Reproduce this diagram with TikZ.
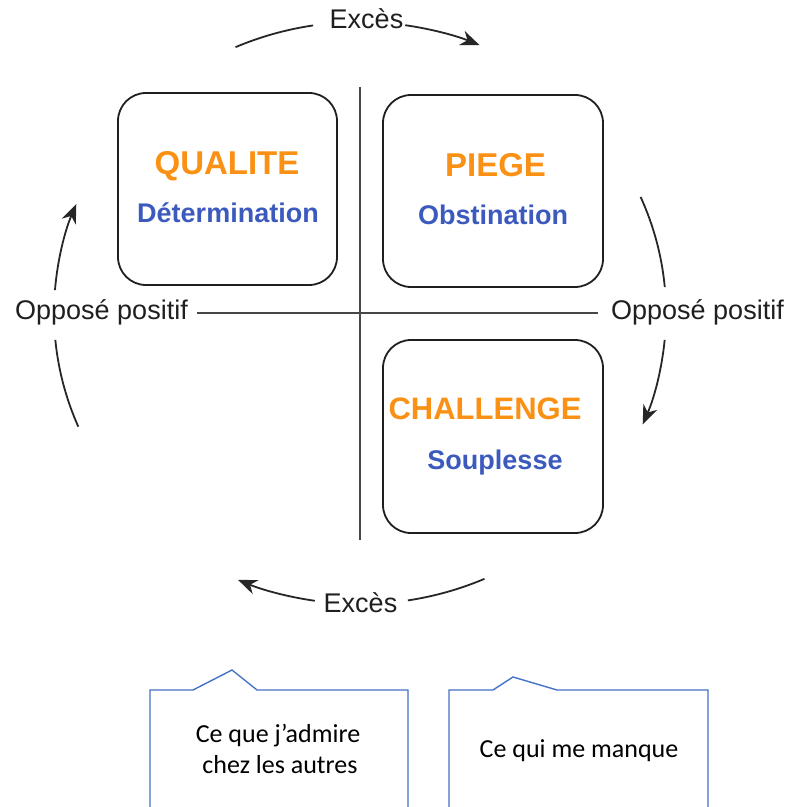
\documentclass[tikz,border=0pt]{standalone}
\usepackage{fontspec}
\setmainfont{Liberation Sans}
\newfontfamily\calloutfont{Carlito}
\usetikzlibrary{arrows.meta}
\definecolor{titleorange}{RGB}{250,145,20}
\definecolor{wordblue}{RGB}{60,90,190}
\definecolor{calloutblue}{RGB}{68,114,196}
\begin{document}
\begin{tikzpicture}[x=1pt,y=1pt,
  quadbox/.style={draw=black!88,line width=1.8pt,rounded corners=28pt,inner sep=0pt},
  titletext/.style={anchor=base,text=titleorange,font=\bfseries\fontsize{33}{38}\selectfont},
  wordtext/.style={anchor=base,text=wordblue,font=\bfseries\fontsize{27}{32}\selectfont},
  lbl/.style={anchor=base,text=black!88,font=\fontsize{27}{32}\selectfont},
  axis/.style={draw=black!72,line width=2.4pt},
  cyc/.style={draw=black!85,line width=1.8pt},
  cycarrow/.style={cyc,-{Stealth[length=19pt,width=15pt,inset=6pt]}},
  ell/.style={x radius=306,y radius=291},
  callout/.style={draw=calloutblue,line width=1.4pt},
  callouttext/.style={anchor=base,text=black,font=\calloutfont\fontsize{26}{31}\selectfont}]
\useasboundingbox (0,0) rectangle (792,807);

% quadrant axes
\coordinate (vtop) at (360,720);
\coordinate (vbot) at (360,267);
\coordinate (hleft) at (197,494);
\coordinate (hright) at (598,494);
\draw[axis] (vtop) -- (vbot);
\draw[axis] (hleft) -- (hright);

% the three boxes
\node[quadbox,minimum width=219pt,minimum height=192pt] (qbox) at (227.5,618) {};
\node[quadbox,minimum width=220pt,minimum height=192pt] (pbox) at (493,616) {};
\node[quadbox,minimum width=220pt,minimum height=193pt] (cbox) at (493,370.5) {};

\node[titletext] (qualite) at (227,632) {QUALITE};
\node[wordtext] (determination) at (228,584) {Détermination};
\node[titletext] (piege) at (495.5,630) {PIEGE};
\node[wordtext] (obstination) at (493,582) {Obstination};
\node[titletext,font=\bfseries\fontsize{31}{36}\selectfont] (challenge) at (485,387) {CHALLENGE};
\node[wordtext] (souplesse) at (495,337) {Souplesse};

% cycle labels
\node[lbl] (excesTop) at (366.5,778) {Excès};
\node[lbl] (excesBot) at (360.5,194) {Excès};
\node[lbl] (oppLeft) at (101.5,487) {Opposé positif};
\node[lbl] (oppRight) at (697.5,487) {Opposé positif};

% cycle arrows: pieces of one ellipse around the axes
\coordinate (O) at (360,494);
\draw[cyc] (O) ++(114:306 and 291) arc[ell,start angle=114,end angle=98.8];
\draw[cycarrow] (O) ++(81.5:306 and 291) arc[ell,start angle=81.5,end angle=67];
\draw[cyc] (O) ++(23.5:306 and 291) arc[ell,start angle=23.5,end angle=5.1];
\draw[cycarrow] (O) ++(-5.3:306 and 291) arc[ell,start angle=-5.3,end angle=-22.5];
\draw[cyc] (O) ++(-66:306 and 291) arc[ell,start angle=-66,end angle=-81];
\draw[cycarrow] (O) ++(-98.5:306 and 291) arc[ell,start angle=-98.5,end angle=-113.5];
\draw[cyc] (O) ++(203:306 and 291) arc[ell,start angle=203,end angle=185.3];
\draw[cycarrow] (O) ++(175.5:306 and 291) arc[ell,start angle=175.5,end angle=158];

% callouts
\draw[callout] (150,0) -- (150,117) -- (193,117) -- (232,137) -- (257,117) -- (408,117) -- (408,0);
\draw[callout] (449,0) -- (449,117) -- (493,117) -- (513,130) -- (557,117) -- (708,117) -- (708,0);
\node[callouttext] (admireA) at (278,64) {Ce que j’admire};
\node[callouttext] (admireB) at (280,33) {chez les autres};
\node[callouttext] (manque) at (579,49) {Ce qui me manque};
\end{tikzpicture}
\end{document}
